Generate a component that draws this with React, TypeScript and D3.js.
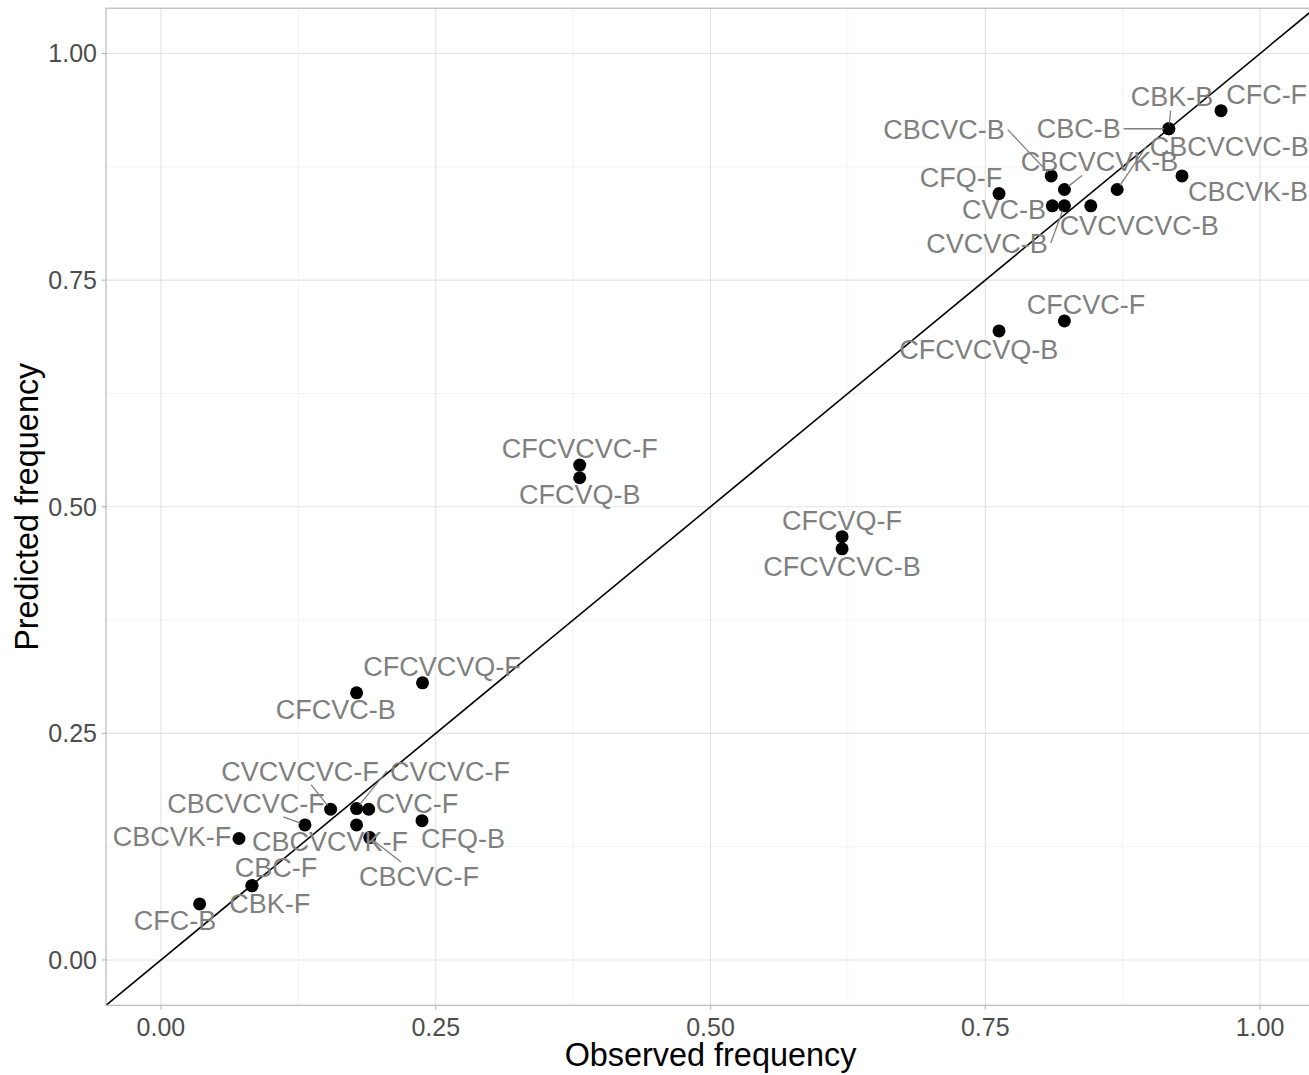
import React, { useMemo } from 'react';
import * as d3 from 'd3';

const labels = [
  'CFC-F', 'CBK-B', 'CBC-B', 'CBCVC-B', 'CBCVCVC-B', 'CBCVCVK-B', 'CBCVK-B', 'CFQ-F', 'CVC-B', 'CVCVC-B',
  'CVCVCVC-B', 'CFCVC-F', 'CFCVCVQ-B', 'CFCVCVC-F', 'CFCVQ-B', 'CFCVQ-F', 'CFCVCVC-B', 'CFCVCVQ-F', 'CFCVC-B', 'CVCVCVC-F',
  'CVCVC-F', 'CVC-F', 'CBCVCVC-F', 'CBCVCVK-F', 'CBCVC-F', 'CFQ-B', 'CBCVK-F', 'CBC-F', 'CBK-F', 'CFC-B',
];
const observed = [
  0.9645, 0.917, 0.917, 0.810, 0.870, 0.822, 0.929, 0.7625, 0.811, 0.822,
  0.846, 0.822, 0.7625, 0.381, 0.381, 0.6197, 0.6197, 0.238, 0.178, 0.1544,
  0.178, 0.189, 0.131, 0.178, 0.190, 0.2375, 0.071, 0.0828, 0.0828, 0.0352,
];
const predicted = [
  0.937, 0.917, 0.917, 0.865, 0.850, 0.850, 0.865, 0.8455, 0.832, 0.832,
  0.832, 0.705, 0.694, 0.546, 0.532, 0.467, 0.4536, 0.3057, 0.2947, 0.1663,
  0.167, 0.1663, 0.149, 0.149, 0.135, 0.1537, 0.134, 0.082, 0.082, 0.0618,
];
// repelled label positions (data units)
const labelObs = [
  1.006, 0.920, 0.835, 0.7125, 0.972, 0.854, 0.989, 0.728, 0.767, 0.7516,
  0.890, 0.8417, 0.744, 0.381, 0.381, 0.6197, 0.6197, 0.2557, 0.159, 0.1265,
  0.263, 0.233, 0.0773, 0.1538, 0.2348, 0.2748, 0.010, 0.1046, 0.099, 0.0127,
];
const labelPred = [
  0.9548, 0.9525, 0.917, 0.916, 0.898, 0.881, 0.848, 0.863, 0.828, 0.791,
  0.811, 0.723, 0.674, 0.564, 0.514, 0.4845, 0.4338, 0.3234, 0.276, 0.2086,
  0.2086, 0.1733, 0.1733, 0.1313, 0.0927, 0.1347, 0.1369, 0.1026, 0.0629, 0.0441,
];
const majorTicks = [0, 0.25, 0.5, 0.75, 1];
const minorTicks = [-0.125, 0.125, 0.375, 0.625, 0.875, 1.125];
const xTitle = 'Observed frequency';
const yTitle = 'Predicted frequency';

const FONT = '"Liberation Sans", Arial, Helvetica, sans-serif';
const LABEL_FS = 27;
const TICK_FS = 25;
const TITLE_FS = 32.4;

export default function App() {
  const W = 1309;
  const H = 1075;
  const x = d3.scaleLinear().domain([-0.05, 1.05]).range([106, 1315]);
  const y = d3.scaleLinear().domain([-0.05, 1.05]).range([1005.3, 8.2]);
  const [x0, x1] = x.range();
  const [y0, y1] = y.range();
  const fmt = d3.format('.2f');

  const widths = useMemo(() => {
    const c = document.createElement('canvas').getContext('2d');
    if (!c) return labels.map((l) => l.length * 16);
    c.font = `${LABEL_FS}px ${FONT}`;
    return labels.map((l) => c.measureText(l).width);
  }, []);

  const r = 6.5;
  const halfH = 10;
  const segs = labels.map((l, i) => {
    const px = x(observed[i]);
    const py = y(predicted[i]);
    const cx = x(labelObs[i]);
    const cy = y(labelPred[i]);
    const hw = widths[i] / 2;
    const cxl = Math.max(cx - hw, Math.min(cx + hw, px));
    const cyl = Math.max(cy - halfH, Math.min(cy + halfH, py));
    const d = Math.hypot(px - cxl, py - cyl);
    if (d <= 10.5) return null;
    let sx: number;
    let sy: number;
    if (px < cx - hw || px > cx + hw) {
      sx = px < cx ? cx - hw - 3 : cx + hw + 3;
      sy = cy;
    } else {
      const edge = py > cy ? 14 : -14;
      const t = edge / (py - cy);
      sx = cx + t * (px - cx);
      sy = cy + edge;
    }
    const L = Math.hypot(px - sx, py - sy);
    const ex = px - ((px - sx) / L) * (r - 1.5);
    const ey = py - ((py - sy) / L) * (r - 1.5);
    return { sx, sy, ex, ey, key: l + i };
  });

  const line = d3.line<number>().x((v) => x(v)).y((v) => y(v));

  return (
    <svg width={W} height={H} style={{ position: 'absolute', left: 0, top: 0, background: '#fff' }} fontFamily={FONT}>
      <defs>
        <clipPath id="panel">
          <rect x={x0} y={y1} width={x1 - x0} height={y0 - y1} />
        </clipPath>
      </defs>
      <rect x={0} y={0} width={W} height={H} fill="#fff" />
      <g clipPath="url(#panel)">
        {minorTicks.map((t) => (
          <g key={'mn' + t}>
            <line x1={x(t)} x2={x(t)} y1={y0} y2={y1} stroke="#f0f0f0" strokeWidth={0.8} />
            <line x1={x0} x2={x1} y1={y(t)} y2={y(t)} stroke="#f0f0f0" strokeWidth={0.8} />
          </g>
        ))}
        {majorTicks.map((t) => (
          <g key={'mj' + t}>
            <line x1={x(t)} x2={x(t)} y1={y0} y2={y1} stroke="#e3e3e3" strokeWidth={1.1} />
            <line x1={x0} x2={x1} y1={y(t)} y2={y(t)} stroke="#e3e3e3" strokeWidth={1.1} />
          </g>
        ))}
        <path d={line([-0.1, 1.2]) || ''} stroke="#000" strokeWidth={1.6} fill="none" />
      </g>
      <rect x={x0} y={y1} width={x1 - x0} height={y0 - y1} fill="none" stroke="#b3b3b3" strokeWidth={1.1} />
      {majorTicks.map((t) => (
        <g key={'tk' + t}>
          <line x1={x(t)} x2={x(t)} y1={y0} y2={y0 + 4.3} stroke="#b3b3b3" strokeWidth={1.1} />
          <line x1={x0 - 4.3} x2={x0} y1={y(t)} y2={y(t)} stroke="#b3b3b3" strokeWidth={1.1} />
          <text x={x(t)} y={y0 + 30.3} textAnchor="middle" fontSize={TICK_FS} fill="#4d4d4d">{fmt(t)}</text>
          <text x={x0 - 9} y={y(t) + 0.358 * TICK_FS} textAnchor="end" fontSize={TICK_FS} fill="#4d4d4d">{fmt(t)}</text>
        </g>
      ))}
      <text x={(x0 + x1) / 2} y={1066} textAnchor="middle" fontSize={TITLE_FS} fill="#000">{xTitle}</text>
      <text transform={`translate(38, ${(y0 + y1) / 2}) rotate(-90)`} textAnchor="middle" fontSize={TITLE_FS} fill="#000">{yTitle}</text>
      {labels.map((l, i) => (
        <circle key={'p' + i} cx={x(observed[i])} cy={y(predicted[i])} r={r} fill="#000" />
      ))}
      {segs.map((s) => s && (
        <line key={s.key} x1={s.sx} y1={s.sy} x2={s.ex} y2={s.ey} stroke="#7f7f7f" strokeWidth={1.3} />
      ))}
      {labels.map((l, i) => (
        <text key={'t' + i} x={x(labelObs[i])} y={y(labelPred[i]) + 0.358 * LABEL_FS} textAnchor="middle" fontSize={LABEL_FS} fill="#7f7f7f">{l}</text>
      ))}
    </svg>
  );
}
